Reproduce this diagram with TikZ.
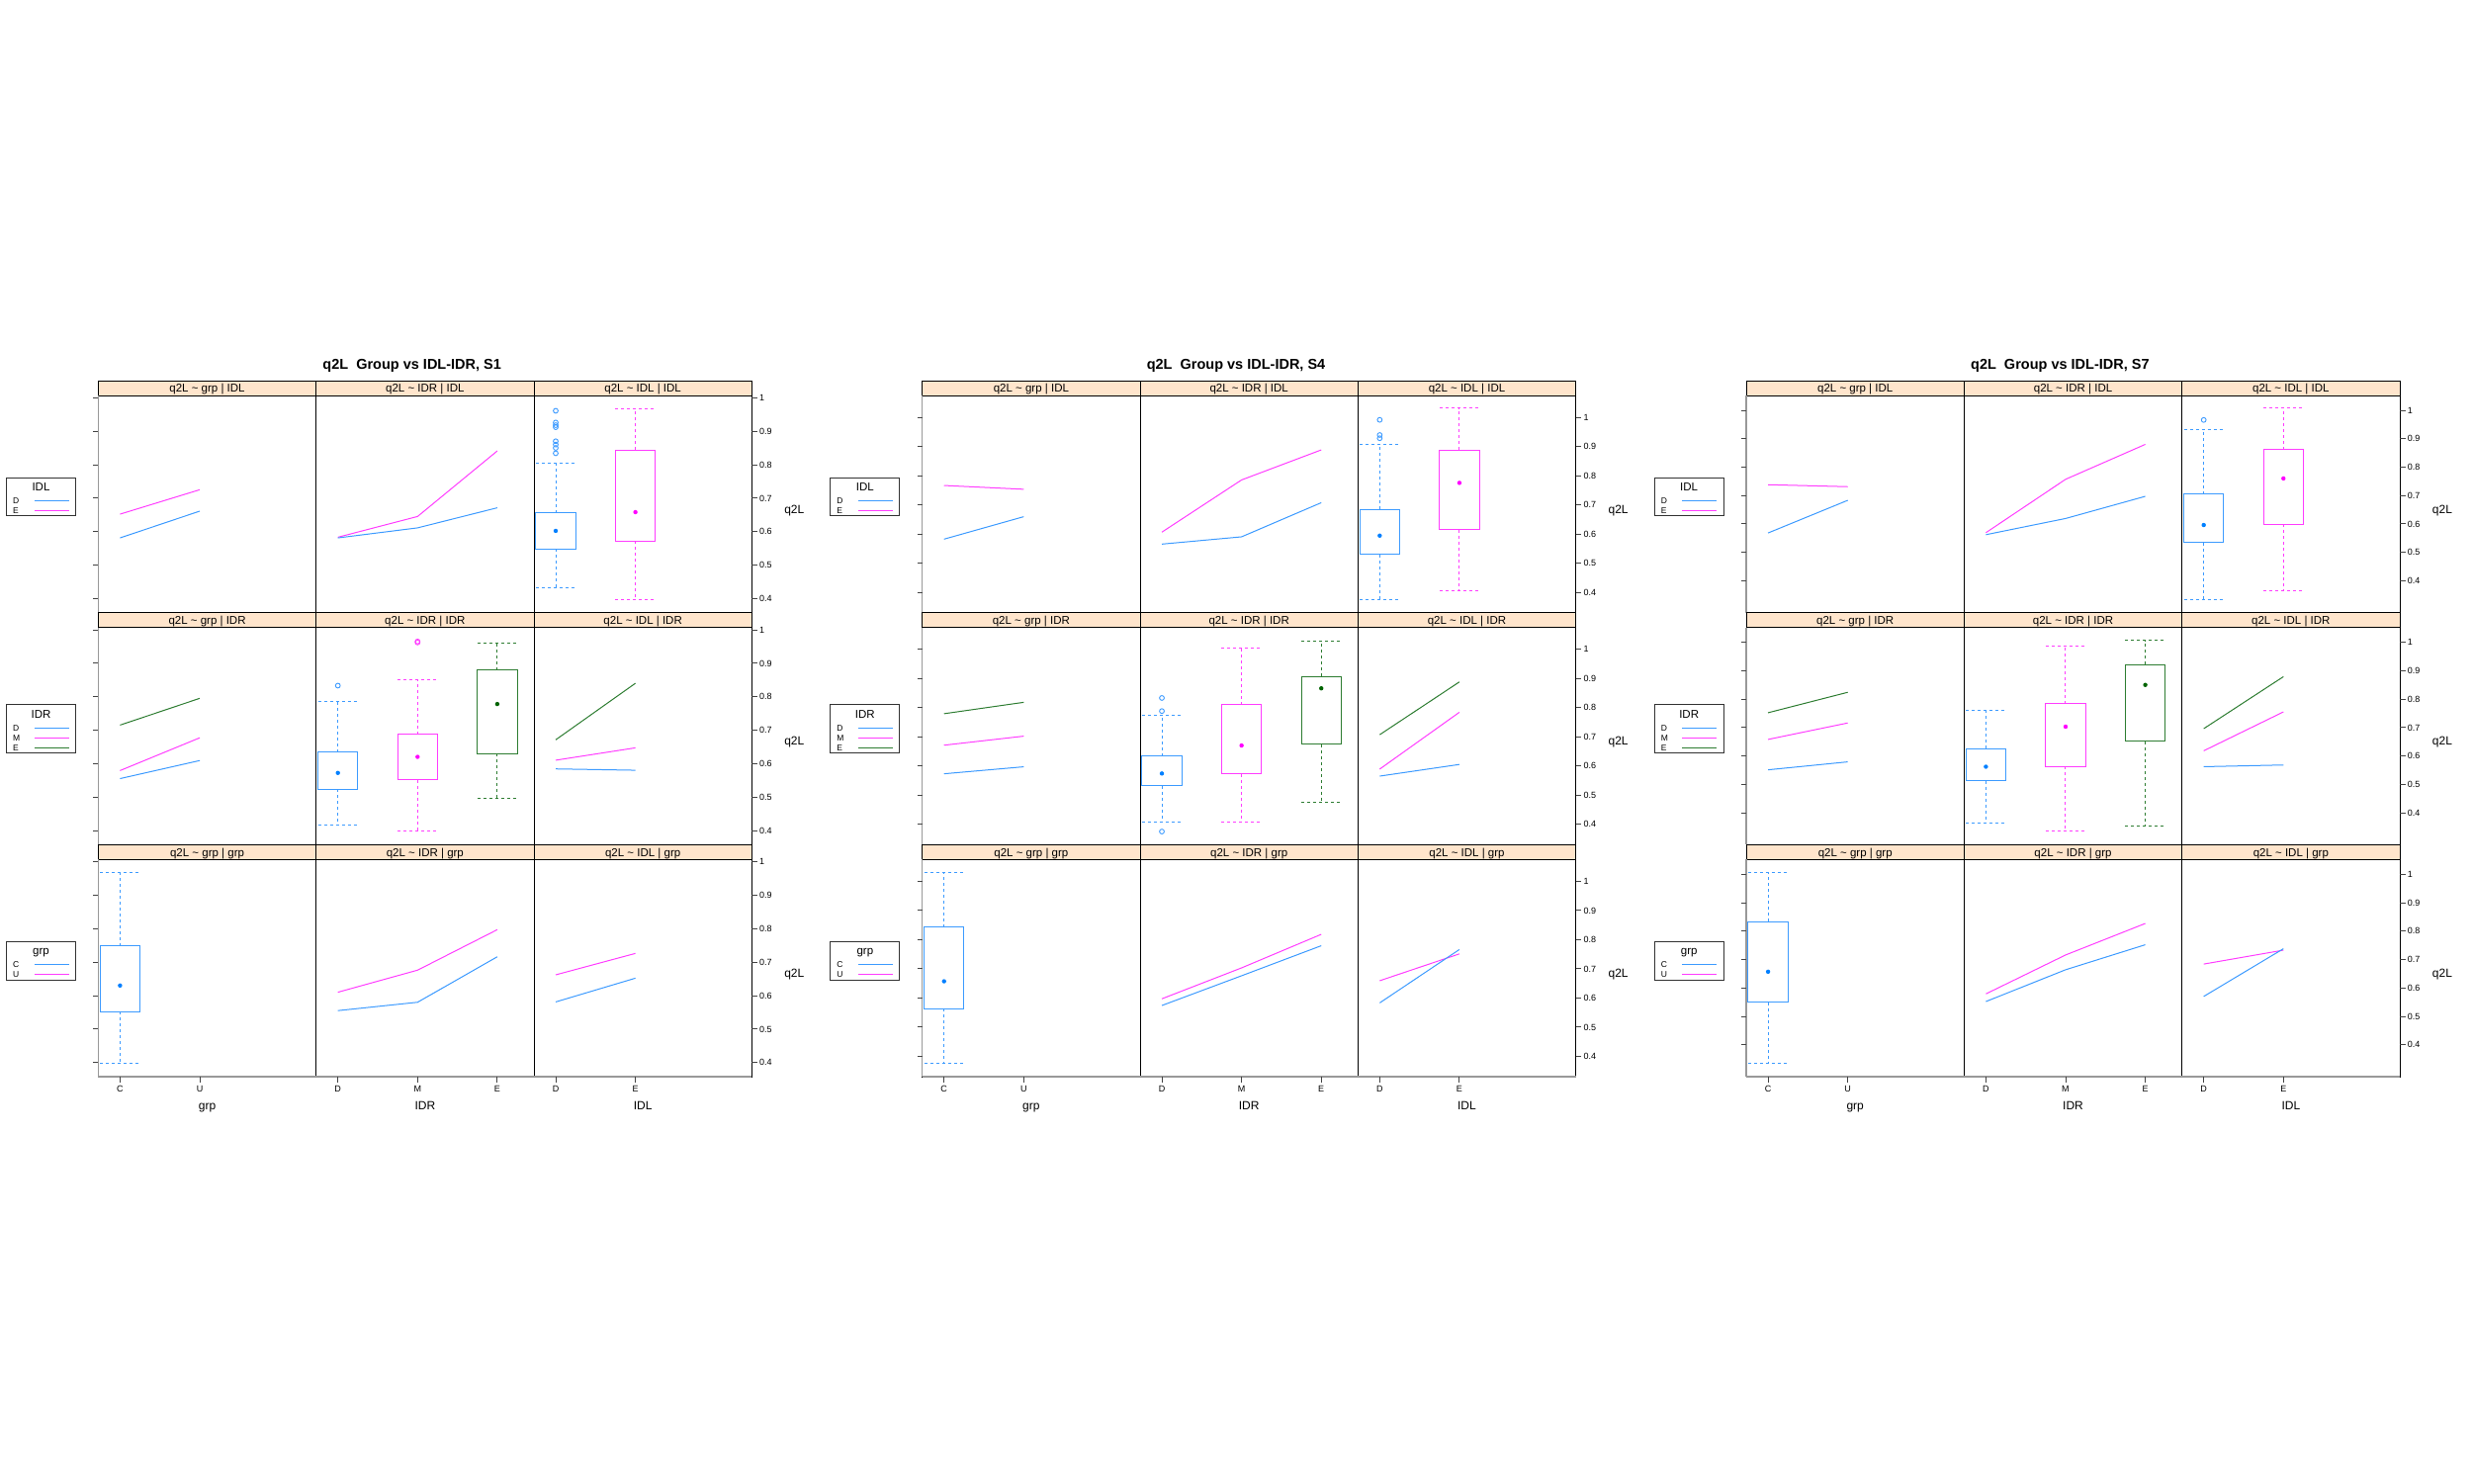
\documentclass[tikz,border=0pt]{standalone}
\usepackage{fontspec}
\setmainfont{Liberation Sans}
\definecolor{stripc}{HTML}{FFE5CC}
\definecolor{cblu}{HTML}{3D9BFF}
\definecolor{cmag}{HTML}{FF3DFF}
\definecolor{cgrn}{HTML}{2E7D32}
\definecolor{dblu}{HTML}{0080FF}
\definecolor{dmag}{HTML}{FF00FF}
\definecolor{dgrn}{HTML}{006400}
\definecolor{axg}{HTML}{999999}
\definecolor{tkc}{HTML}{444444}
\tikzset{
 stripbox/.style={draw=black,fill=stripc,line width=0.8pt},
 pframe/.style={draw=black,line width=0.8pt},
 oaxis/.style={draw=axg,line width=1.4pt},
 tk/.style={draw=tkc,line width=0.9pt},
 lb/.style={draw=cblu,line width=1pt},
 lm/.style={draw=cmag,line width=1pt},
 lg/.style={draw=cgrn,line width=1pt},
 titlef/.style={font=\fontsize{14.5}{17}\selectfont\bfseries,inner sep=0pt,text height=10.4pt,text depth=0pt},
 stripf/.style={font=\fontsize{11.5}{13}\selectfont,inner sep=0pt,text height=8.2pt,text depth=0pt},
 tickf/.style={font=\fontsize{9}{10}\selectfont,inner sep=0pt,text height=6.4pt,text depth=0pt},
 labf/.style={font=\fontsize{12}{14}\selectfont,inner sep=0pt,text height=8.6pt,text depth=0pt},
 legt/.style={font=\fontsize{11.5}{13}\selectfont,inner sep=0pt,text height=8.2pt,text depth=0pt},
 legi/.style={font=\fontsize{8.5}{10}\selectfont,inner sep=0pt,anchor=west,text height=6.1pt,text depth=0pt},
 legframe/.style={draw=black!80,line width=0.9pt},
 pan/.style n args={5}{shift={({#1+99.4+220.3*#2+22-80.6},{385+234.67*#3+15+#4+#5})},x=80.6pt,y=#5pt}
}
\newcommand\bwp[8]{%
  \draw[draw=#7,line width=1pt] ({#1-0.25},#3) rectangle ({#1+0.25},#5);
  \draw[draw=#7,line width=1pt,dash pattern=on 3pt off 3pt] (#1,#5) -- (#1,#6) ({#1-0.25},#6) -- ({#1+0.25},#6) (#1,#3) -- (#1,#2) ({#1-0.25},#2) -- ({#1+0.25},#2);
  \fill[fill=#8] (#1,#4) circle[radius=2.2pt];
}
\newcommand\outl[3]{\draw[draw=#2,line width=0.9pt] (#1,#3) circle[radius=2.4pt];}
\newcommand\pdat[6]{\begin{scope}[pan={#1}{#2}{#3}{#4}{#5}]#6\end{scope}}
\newcommand\Ga[3]{\pdat{0}{#1}{#2}{2.3}{338.3}{#3}}
\newcommand\Gb[3]{\pdat{833.33}{#1}{#2}{22}{295}{#3}}
\newcommand\Gc[3]{\pdat{1666.67}{#1}{#2}{15}{287.2}{#3}}
\newcommand\onegroup[4]{%
\begin{scope}[xshift=#1pt]
\node[titlef] (title#4) at (416.7,368.3) {q2L\ \ Group vs IDL-IDR, #4};
\foreach \r/\cond in {0/IDL,1/IDR,2/grp} {
  \pgfmathsetmacro\rowS{385+234.67*\r}
  \pgfmathsetmacro\rowT{\rowS+15}
  \pgfmathsetmacro\rowB{\rowS+234.67}
  \foreach \c/\var in {0/grp,1/IDR,2/IDL} {
    \pgfmathsetmacro\colL{99.4+220.3*\c}
    \pgfmathsetmacro\colR{\colL+220.3}
    \draw[pframe] (\colL,\rowT) rectangle (\colR,\rowB);
    \draw[stripbox] (\colL,\rowS) rectangle (\colR,\rowT);
    \node[stripf] (s#4\r\c) at ({\colL+110.15},{\rowS+7.6}) {q2L \textasciitilde\ \var\ | \cond};
  }
  \draw[oaxis] (99.4,\rowT) -- (99.4,\rowB);
  \foreach \v/\lab [count=\i] in {1/1,0.9/0.9,0.8/0.8,0.7/0.7,0.6/0.6,0.5/0.5,0.4/0.4} {
    \pgfmathsetmacro\tyy{\rowT+#2+(1-\v)*#3}
    \draw[tk] (760.3,\tyy) -- (766,\tyy);
    \draw[tk] (94.4,\tyy) -- (99.4,\tyy);
    \node[tickf,anchor=west] (y#4\r\i) at (768,\tyy) {\lab};
  }
  \node[labf] (q#4\r) at (803.3,{(\rowT+\rowB)/2+5}) {q2L};
}
\draw[oaxis] (99.4,1089) -- (760.3,1089);
\foreach \xx/\lab/\k in {121.4/C/1,202.0/U/2,341.7/D/3,422.3/M/4,502.9/E/5,562.0/D/6,642.6/E/7}{
  \draw[tk] (\xx,1089) -- (\xx,1095);
  \node[tickf] (x#4\k) at (\xx,1101.6) {\lab};
}
\node[labf] (axa#4) at (209.55,1118.6) {grp};
\node[labf] (axb#4) at (429.85,1118.6) {IDR};
\node[labf] (axc#4) at (650.15,1118.6) {IDL};
% legend IDL
\draw[legframe] (6.5,483.1) rectangle (76.5,521.5);
\node[legt] (lgta#4) at (41.5,492.4) {IDL};
\node[legi] (lgia#4) at (12.9,506.2) {D};
\node[legi] (lgib#4) at (12.9,516.2) {E};
\draw[lb] (34.5,506.2) -- (69.6,506.2);
\draw[lm] (34.5,516.2) -- (69.6,516.2);
% legend IDR
\draw[legframe] (6.5,712.7) rectangle (76.5,761.3);
\node[legt] (lgtb#4) at (41.5,722.7) {IDR};
\node[legi] (lgic#4) at (12.9,736.4) {D};
\node[legi] (lgid#4) at (12.9,746.4) {M};
\node[legi] (lgie#4) at (12.9,756.4) {E};
\draw[lb] (34.5,736.4) -- (69.6,736.4);
\draw[lm] (34.5,746.4) -- (69.6,746.4);
\draw[lg] (34.5,756.4) -- (69.6,756.4);
% legend grp
\draw[legframe] (6.5,952.3) rectangle (76.5,991);
\node[legt] (lgtc#4) at (41.5,961.6) {grp};
\node[legi] (lgif#4) at (12.9,975.3) {C};
\node[legi] (lgig#4) at (12.9,985.3) {U};
\draw[lb] (34.5,975.3) -- (69.6,975.3);
\draw[lm] (34.5,985.3) -- (69.6,985.3);
\end{scope}}
\begin{document}
\begin{tikzpicture}[x=1pt,y=-1pt]
\useasboundingbox (0,0) rectangle (2500,1500);
\fill[white] (0,0) rectangle (2500,1500);
\onegroup{0}{2.3}{338.3}{S1}
\onegroup{833.33}{22}{295}{S4}
\onegroup{1666.67}{15}{287.2}{S7}
% ---------- S1 ----------
\Ga{0}{0}{\draw[lm] (1,0.652)--(2,0.725); \draw[lb] (1,0.581)--(2,0.661);}
\Ga{1}{0}{\draw[lm] (1,0.583)--(2,0.645)--(3,0.841); \draw[lb] (1,0.581)--(2,0.611)--(3,0.671);}
\Ga{2}{0}{\bwp{1}{0.433}{0.548}{0.602}{0.656}{0.805}{cblu}{dblu}
  \foreach \o in {0.961,0.926,0.918,0.912,0.870,0.860,0.850,0.834}{\outl{1}{cblu}{\o}}
  \bwp{2}{0.397}{0.571}{0.658}{0.843}{0.968}{cmag}{dmag}}
\Ga{0}{1}{\draw[lg] (1,0.715)--(2,0.795); \draw[lm] (1,0.579)--(2,0.677); \draw[lb] (1,0.555)--(2,0.609);}
\Ga{1}{1}{\bwp{1}{0.415}{0.523}{0.572}{0.634}{0.785}{cblu}{dblu}\outl{1}{cblu}{0.833}
  \bwp{2}{0.399}{0.551}{0.620}{0.688}{0.850}{cmag}{dmag}\outl{2}{cmag}{0.965}\outl{2}{cmag}{0.962}
  \bwp{3}{0.496}{0.629}{0.778}{0.879}{0.959}{cgrn}{dgrn}}
\Ga{2}{1}{\draw[lg] (1,0.671)--(2,0.840); \draw[lm] (1,0.610)--(2,0.647); \draw[lb] (1,0.584)--(2,0.580);}
\Ga{0}{2}{\bwp{1}{0.398}{0.552}{0.630}{0.748}{0.968}{cblu}{dblu}}
\Ga{1}{2}{\draw[lm] (1,0.610)--(2,0.676)--(3,0.797); \draw[lb] (1,0.555)--(2,0.580)--(3,0.716);}
\Ga{2}{2}{\draw[lm] (1,0.662)--(2,0.726); \draw[lb] (1,0.581)--(2,0.652);}
% ---------- S4 ----------
\Gb{0}{0}{\draw[lm] (1,0.766)--(2,0.753); \draw[lb] (1,0.582)--(2,0.659);}
\Gb{1}{0}{\draw[lm] (1,0.606)--(2,0.785)--(3,0.888); \draw[lb] (1,0.565)--(2,0.590)--(3,0.707);}
\Gb{2}{0}{\bwp{1}{0.375}{0.529}{0.594}{0.684}{0.907}{cblu}{dblu}
  \foreach \o in {0.991,0.939,0.928}{\outl{1}{cblu}{\o}}
  \bwp{2}{0.406}{0.615}{0.775}{0.888}{1.031}{cmag}{dmag}}
\Gb{0}{1}{\draw[lg] (1,0.779)--(2,0.818); \draw[lm] (1,0.671)--(2,0.702); \draw[lb] (1,0.573)--(2,0.597);}
\Gb{1}{1}{\bwp{1}{0.407}{0.532}{0.574}{0.634}{0.774}{cblu}{dblu}
  \foreach \o in {0.833,0.788,0.375}{\outl{1}{cblu}{\o}}
  \bwp{2}{0.409}{0.573}{0.670}{0.810}{1.003}{cmag}{dmag}
  \bwp{3}{0.476}{0.675}{0.866}{0.907}{1.029}{cgrn}{dgrn}}
\Gb{2}{1}{\draw[lg] (1,0.707)--(2,0.888); \draw[lm] (1,0.589)--(2,0.784); \draw[lb] (1,0.565)--(2,0.605);}
\Gb{0}{2}{\bwp{1}{0.375}{0.563}{0.657}{0.842}{1.029}{cblu}{dblu}}
\Gb{1}{2}{\draw[lm] (1,0.597)--(2,0.703)--(3,0.818); \draw[lb] (1,0.574)--(2,0.676)--(3,0.779);}
\Gb{2}{2}{\draw[lm] (1,0.659)--(2,0.751); \draw[lb] (1,0.583)--(2,0.766);}
% ---------- S7 ----------
\Gc{0}{0}{\draw[lm] (1,0.738)--(2,0.731); \draw[lb] (1,0.568)--(2,0.683);}
\Gc{1}{0}{\draw[lm] (1,0.569)--(2,0.757)--(3,0.880); \draw[lb] (1,0.562)--(2,0.619)--(3,0.697);}
\Gc{2}{0}{\bwp{1}{0.334}{0.535}{0.596}{0.705}{0.932}{cblu}{dblu}\outl{1}{cblu}{0.966}
  \bwp{2}{0.365}{0.598}{0.760}{0.862}{1.007}{cmag}{dmag}}
\Gc{0}{1}{\draw[lg] (1,0.752)--(2,0.824); \draw[lm] (1,0.658)--(2,0.716); \draw[lb] (1,0.551)--(2,0.579);}
\Gc{1}{1}{\bwp{1}{0.365}{0.513}{0.562}{0.626}{0.762}{cblu}{dblu}
  \bwp{2}{0.334}{0.563}{0.703}{0.784}{0.988}{cmag}{dmag}
  \bwp{3}{0.352}{0.652}{0.850}{0.922}{1.006}{cgrn}{dgrn}}
\Gc{2}{1}{\draw[lg] (1,0.696)--(2,0.879); \draw[lm] (1,0.618)--(2,0.755); \draw[lb] (1,0.562)--(2,0.568);}
\Gc{0}{2}{\bwp{1}{0.334}{0.550}{0.657}{0.833}{1.007}{cblu}{dblu}}
\Gc{1}{2}{\draw[lm] (1,0.579)--(2,0.716)--(3,0.827); \draw[lb] (1,0.552)--(2,0.664)--(3,0.752);}
\Gc{2}{2}{\draw[lm] (1,0.684)--(2,0.733); \draw[lb] (1,0.570)--(2,0.738);}
\end{tikzpicture}
\end{document}
